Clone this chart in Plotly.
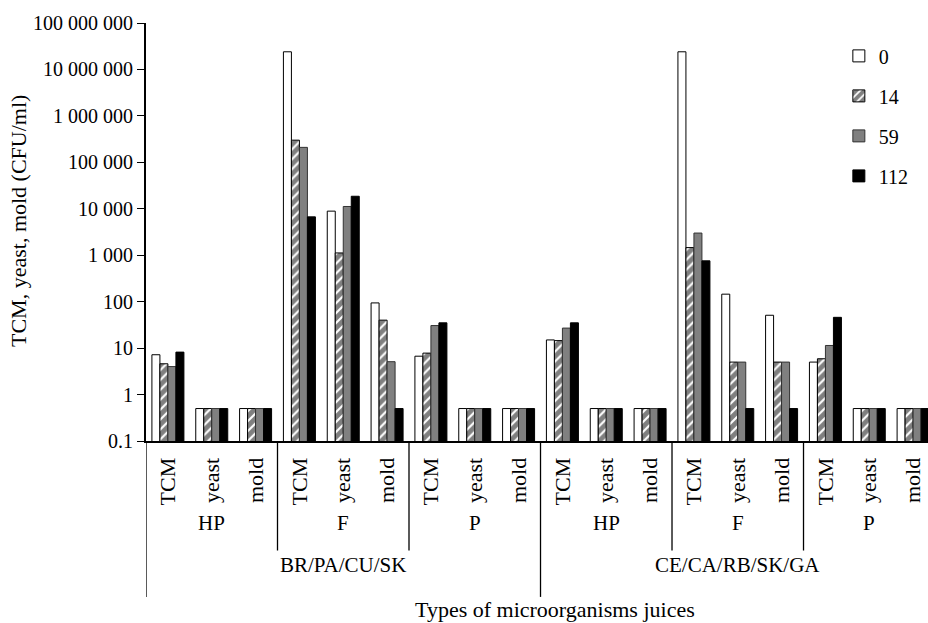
import plotly.graph_objects as go

juices = ["BR/PA/CU/SK", "CE/CA/RB/SK/GA"]
processes = ["HP", "F", "P"]
types = ["TCM", "yeast", "mold"]
series_names = ["0", "14", "59", "112"]

day0 = [7.2, 0.5, 0.5, 24000000, 8900, 94, 6.7, 0.5, 0.5,
        15, 0.5, 0.5, 24000000, 145, 51, 5, 0.5, 0.5]
day14 = [4.6, 0.5, 0.5, 300000, 1120, 40, 7.8, 0.5, 0.5,
         14.5, 0.5, 0.5, 1460, 5, 5, 5.9, 0.5, 0.5]
day59 = [4.0, 0.5, 0.5, 210000, 11200, 5.1, 30.6, 0.5, 0.5,
         27, 0.5, 0.5, 3000, 5, 5, 11.4, 0.5, 0.5]
day112 = [8.2, 0.5, 0.5, 6700, 18600, 0.5, 35, 0.5, 0.5,
          35, 0.5, 0.5, 757, 0.5, 0.5, 46, 0.5, 0.5]

ytick_vals = [0.1, 1, 10, 100, 1000, 10000, 100000, 1000000, 10000000, 100000000]
ytick_text = ["0.1", "1", "10", "100", "1 000", "10 000", "100 000",
              "1 000 000", "10 000 000", "100 000 000"]

cats = [f"{j}|{p}|{t}" for j in juices for p in processes for t in types]
cat_labels = [t for j in juices for p in processes for t in types]

FONT = "Liberation Serif"
fig = go.Figure()

styles = [
    dict(color="white", line=dict(color="black", width=1)),
    dict(color="white", line=dict(color="black", width=1),
         pattern=dict(shape="/", fgcolor="black", bgcolor="white", size=7, solidity=0.7)),
    dict(color="#808080", line=dict(color="#333333", width=1)),
    dict(color="black", line=dict(color="black", width=1)),
]
for name, vals, st in zip(series_names, [day0, day14, day59, day112], styles):
    fig.add_trace(go.Bar(x=cats, y=vals, name=name, marker=st, legendgroup=name))

shapes = []
for pos in [2.5, 5.5, 11.5, 14.5]:
    shapes.append(dict(type="line", xref="x", yref="paper", x0=pos, x1=pos,
                       y0=0, y1=-0.262, line=dict(color="black", width=1.3)))
for pos in [-0.5, 8.5]:
    shapes.append(dict(type="line", xref="x", yref="paper", x0=pos, x1=pos,
                       y0=0, y1=-0.373, line=dict(color="black", width=1.3)))

annotations = []
for ji, j in enumerate(juices):
    for pi, p in enumerate(processes):
        annotations.append(dict(x=ji * 9 + pi * 3 + 1, y=-0.196, xref="x", yref="paper",
                                text=p, showarrow=False, yanchor="middle",
                                font=dict(family=FONT, size=21, color="black")))
    annotations.append(dict(x=ji * 9 + 4, y=-0.297, xref="x", yref="paper",
                            text=j, showarrow=False, yanchor="middle",
                            font=dict(family=FONT, size=21, color="black")))
annotations.append(dict(x=(555 - 146) / 782, y=-0.403, xref="paper", yref="paper",
                        text="Types of microorganisms juices", showarrow=False,
                        yanchor="middle", xanchor="center",
                        font=dict(family=FONT, size=22, color="black")))
annotations.append(dict(x=(18 - 146) / 782, y=(441 - 221) / 418, xref="paper", yref="paper",
                        text="TCM, yeast, mold (CFU/ml)", showarrow=False, textangle=-90,
                        yanchor="middle", xanchor="center",
                        font=dict(family=FONT, size=22, color="black")))

fig.update_layout(
    width=928, height=623,
    margin=dict(l=146, r=0, t=23, b=182),
    paper_bgcolor="white", plot_bgcolor="white",
    barmode="group", bargap=0.27, bargroupgap=0,
    font=dict(family=FONT, size=20, color="black"),
    showlegend=True,
    legend=dict(x=0.886, y=0.968, xanchor="left", yanchor="top",
                bgcolor="rgba(0,0,0,0)", traceorder="grouped", tracegroupgap=11,
                font=dict(family=FONT, size=20, color="black")),
    shapes=shapes, annotations=annotations,
    xaxis=dict(type="category", range=[-0.5, 17.34], tickvals=cats, ticktext=cat_labels,
               tickangle=-90, showline=True, linecolor="black", linewidth=2,
               ticks="", showgrid=False, ticklabelstandoff=6,
               tickfont=dict(family=FONT, size=22, color="black")),
    yaxis=dict(type="log", range=[-1, 8], tickvals=ytick_vals, ticktext=ytick_text,
               showline=True, linecolor="black", linewidth=2, ticks="outside",
               ticklen=7, tickcolor="black", tickwidth=1, showgrid=False, zeroline=False,
               tickfont=dict(family=FONT, size=20, color="black")),
)

fig.write_html("out.html", config={"displayModeBar": False},
               post_script="document.body.style.margin='0';")
